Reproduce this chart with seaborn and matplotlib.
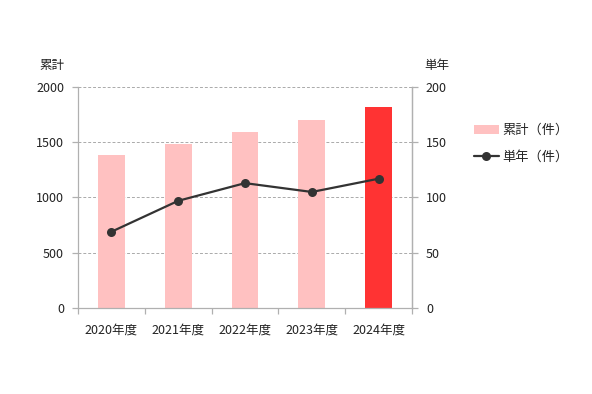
import matplotlib
matplotlib.use("Agg")
import matplotlib.pyplot as plt
import seaborn as sns
import pandas as pd
from matplotlib.patches import Patch
from matplotlib.lines import Line2D

years = ["2020年度", "2021年度", "2022年度", "2023年度", "2024年度"]
cumulative = [1385, 1484, 1593, 1701, 1819]
yearly = [69, 97, 113, 105, 117]
bar_colors = ["#FFC1C1", "#FFC1C1", "#FFC1C1", "#FFC1C1", "#FF3333"]

sns.set_style("white")
plt.rcParams["font.family"] = ["Noto Sans CJK JP", "DejaVu Sans"]
plt.rcParams["font.size"] = 8

df = pd.DataFrame({"year": years, "cum": cumulative, "single": yearly})

fig = plt.figure(figsize=(5.92, 3.94), dpi=100)
ax = fig.add_axes([0.1318, 0.2183, 0.5642, 0.5609])

sns.barplot(data=df, x="year", y="cum", hue="year", palette=bar_colors,
            width=0.4, legend=False, ax=ax, saturation=1, linewidth=0)
ax.set_ylim(0, 2000)
ax.set_yticks([0, 500, 1000, 1500, 2000])
ax.set_xlim(-0.5, 4.5)
ax.set_xlabel("")
ax.set_ylabel("")
ax.yaxis.grid(True, color="#aaaaaa", linestyle=(0, (3, 2)), linewidth=0.7)
ax.set_axisbelow(True)
ax.spines["top"].set_visible(False)
for s in ["left", "bottom", "right"]:
    ax.spines[s].set_color("#b0b0b0")
    ax.spines[s].set_linewidth(0.9)
ax.set_xticks([i - 0.5 for i in range(6)], minor=True)
ax.tick_params(axis="x", which="major", bottom=False, pad=8, labelsize=9, labelcolor="#222222")
ax.tick_params(axis="x", which="minor", bottom=True, length=4, width=0.9,
               color="#b0b0b0", direction="out")
ax.tick_params(axis="y", left=True, length=4, width=0.9, color="#b0b0b0", direction="out",
               labelsize=9, labelcolor="#222222", pad=6)

ax2 = ax.twinx()
sns.lineplot(data=df, x="year", y="single", ax=ax2, color="#333333", marker="o",
             markersize=6.5, linewidth=1.6, markeredgewidth=0)
ax2.set_ylim(0, 200)
ax2.set_yticks([0, 50, 100, 150, 200])
ax2.set_xlim(-0.5, 4.5)
ax2.set_ylabel("")
ax2.set_xlabel("")
for s in ["top", "left", "bottom"]:
    ax2.spines[s].set_visible(False)
ax2.spines["right"].set_color("#b0b0b0")
ax2.spines["right"].set_linewidth(0.9)
ax2.tick_params(axis="y", right=True, length=4, width=0.9, color="#b0b0b0",
                direction="out", labelsize=9, labelcolor="#222222", pad=6)

fig.text(0.088, 0.835, "累計", fontsize=9, ha="center", va="center", color="#222222")
fig.text(0.738, 0.835, "単年", fontsize=9, ha="center", va="center", color="#222222")

handles = [Patch(facecolor="#FFC1C1", edgecolor="none"),
           Line2D([0], [0], color="#333333", marker="o", markersize=6.5, linewidth=1.6,
                  markeredgewidth=0)]
fig.legend(handles, ["累計（件）", "単年（件）"], loc="center left",
           bbox_to_anchor=(0.78, 0.635), frameon=False, fontsize=9.5,
           handlelength=1.9, handleheight=0.7, labelspacing=1.0, handletextpad=0.3)

fig.savefig("out.png", dpi=100)
